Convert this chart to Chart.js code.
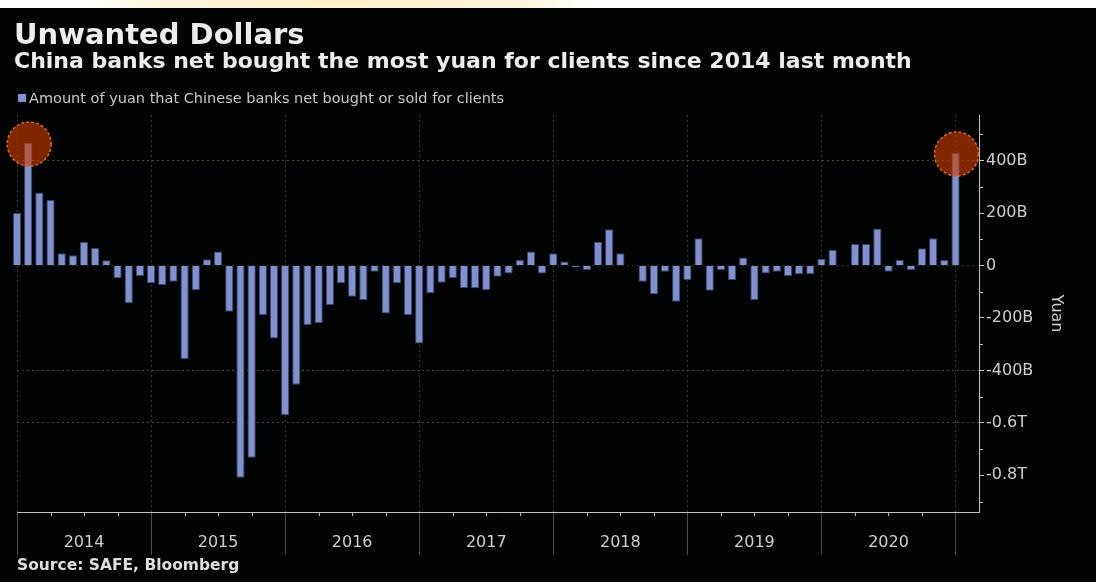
<!DOCTYPE html>
<html>
<head>
<meta charset="utf-8">
<script src="https://cdn.jsdelivr.net/npm/chart.js@4.4.1/dist/chart.umd.min.js"></script>
<style>
  html, body { margin: 0; padding: 0; background: #fff; }
  #page { position: relative; width: 1096px; height: 582px; overflow: hidden; font-family: "DejaVu Sans", sans-serif; }
  #band { position: absolute; left: 0; top: 0; width: 1096px; height: 8px;
          background: radial-gradient(ellipse 260px 40px at 340px 0px, #fbf0c6 0%, #fdf6dc 70%, #ffffff 100%); }
  #panel { position: absolute; left: 0; top: 8px; width: 1096px; height: 574px; background: #020303; }
  #chart { position: absolute; left: 0; top: 0; }
  .txt { position: absolute; white-space: nowrap; }
  #title { left: 14px; top: 17px; font-size: 29px; line-height: 34px; font-weight: bold; color: #ededed; }
  #subtitle { left: 14px; top: 48px; font-size: 22px; line-height: 26px; font-weight: bold; color: #ededed; }
  #legend { left: 18px; top: 89px; font-size: 14.5px; line-height: 18px; color: #c9c9c9; }
  #legend span { display: inline-block; width: 8px; height: 8px; background: #7f91cf; margin-right: 3px; vertical-align: 1px; }
  #source { left: 17px; top: 556px; font-size: 15.5px; line-height: 18px; font-weight: bold; color: #dedede; }
</style>
</head>
<body>
<div id="page">
  <div id="band"></div>
  <div id="panel"></div>
  <canvas id="chart" width="1096" height="582"></canvas>
  <div class="txt" id="title">Unwanted Dollars</div>
  <div class="txt" id="subtitle">China banks net bought the most yuan for clients since 2014 last month</div>
  <div class="txt" id="legend"><span></span>Amount of yuan that Chinese banks net bought or sold for clients</div>
  <div class="txt" id="source">Source: SAFE, Bloomberg</div>
</div>
<script>
// monthly net yuan bought (+) / sold (-) for clients, billions, Dec 2013 .. Dec 2020
const values = [
  200, 467, 278, 250, 47, 39, 90, 67, 20, -49, -144, -40,
  -68, -74, -62, -357, -94, 24, 53, -176, -809, -733, -190, -278,
  -570, -455, -227, -220, -151, -68, -119, -132, -24, -183, -68, -189,
  -297, -106, -66, -49, -87, -87, -94, -43, -30, 21, 53, -30,
  47, 15, -8, -17, 91, 138, 47, -3, -62, -110, -24, -138,
  -55, 104, -96, -17, -55, 31, -132, -30, -24, -40, -33, -33,
  26, 59, 2, 82, 82, 141, -24, 21, -17, 66, 104, 21,
  429
];
const years = ['2014', '2015', '2016', '2017', '2018', '2019', '2020'];
const xTicks = [0, 6, 12, 18, 24, 30, 36, 42, 48, 54, 60, 66, 72, 78, 84];
const yTicks = [-800, -600, -400, -200, 0, 200, 400];
const highlighted = [1, 84]; // Jan 2014 and latest month

const barColor = '#7f91cf';

function yLabel(v) {
  if (v === 0) return '0';
  if (Math.abs(v) < 500) return v + 'B';
  return (v / 1000).toFixed(1) + 'T';
}

// red circles around the two peaks
const circles = {
  id: 'circles',
  afterDatasetsDraw(chart) {
    const ctx = chart.ctx;
    const meta = chart.getDatasetMeta(0);
    highlighted.forEach(i => {
      const el = meta.data[i];
      ctx.save();
      ctx.beginPath();
      ctx.arc(el.x + 1, el.y + 1, 22, 0, Math.PI * 2);
      ctx.fillStyle = 'rgba(205, 62, 0, 0.62)';
      ctx.fill();
      ctx.setLineDash([3, 2]);
      ctx.lineWidth = 1.5;
      ctx.strokeStyle = '#e8631a';
      ctx.stroke();
      ctx.restore();
    });
  }
};

// small minor ticks (quarters and 100B)
const minorTicks = {
  id: 'minorTicks',
  afterDraw(chart) {
    const ctx = chart.ctx;
    const xs = chart.scales.x, ys = chart.scales.y;
    ctx.save();
    ctx.strokeStyle = '#bdbdbd';
    ctx.lineWidth = 1;
    ctx.beginPath();
    for (let m = 3; m < 84; m += 3) {
      if (m % 12 === 0) continue;
      const x = Math.round(xs.getPixelForValue(m)) + 0.5;
      ctx.moveTo(x, ys.bottom);
      ctx.lineTo(x, ys.bottom + 4);
    }
    for (let v = -900; v <= 500; v += 200) {
      const y = Math.round(ys.getPixelForValue(v)) + 0.5;
      ctx.moveTo(ys.left, y);
      ctx.lineTo(ys.left + 4, y);
    }
    ctx.stroke();
    ctx.restore();
  }
};

const ctx = document.getElementById('chart').getContext('2d');

new Chart(ctx, {
  type: 'bar',
  data: {
    datasets: [{
      label: 'Amount of yuan that Chinese banks net bought or sold for clients',
      data: values.map((v, i) => ({ x: i, y: v })),
      backgroundColor: barColor,
      borderColor: '#3c4270',
      borderWidth: 1,
      categoryPercentage: 1,
      barPercentage: 0.74,
      clip: false
    }]
  },
  options: {
    responsive: false,
    animation: false,
    layout: { padding: { left: 17, top: 115, right: 0, bottom: 0 } },
    plugins: {
      legend: { display: false },
      tooltip: { enabled: false }
    },
    scales: {
      x: {
        type: 'linear',
        offset: false,
        min: 0,
        max: 86.1,
        afterFit: (s) => { s.height = 70; },
        afterBuildTicks: (s) => { s.ticks = xTicks.map(v => ({ value: v })); },
        border: { display: true, color: '#c4c4c4', width: 1, dash: [2, 3] },
        grid: {
          offset: false,
          color: (c) => (c.tick && c.tick.value % 12 === 0) ? '#3a3a22' : 'rgba(0,0,0,0)',
          tickColor: (c) => (c.tick && c.tick.value % 12 === 0) ? '#4c4c4c' : 'rgba(0,0,0,0)',
          tickLength: 43,
          tickBorderDash: []
        },
        ticks: {
          autoSkip: false,
          maxRotation: 0,
          padding: -22,
          color: '#cfcfcf',
          font: { family: 'DejaVu Sans', size: 16 },
          callback: (v) => (v % 12 === 6) ? years[(v - 6) / 12] : ''
        }
      },
      y: {
        position: 'right',
        min: -940,
        max: 574,
        afterFit: (s) => { s.width = 117; },
        afterBuildTicks: (s) => { s.ticks = yTicks.map(v => ({ value: v })); },
        border: { display: true, color: '#c4c4c4', width: 1, dash: [2, 3] },
        grid: {
          color: (c) => {
            const v = c.tick ? c.tick.value : null;
            if (v === 400 || v === -400 || v === -600) return '#4a4a2a';
            if (v === 0) return '#2a2a1c';
            return 'rgba(0,0,0,0)';
          },
          tickColor: '#c4c4c4',
          tickLength: 5,
          tickBorderDash: []
        },
        ticks: {
          padding: 2,
          color: '#cfcfcf',
          font: { family: 'DejaVu Sans', size: 16 },
          callback: (v) => yLabel(v)
        },
        title: {
          display: true,
          text: 'Yuan',
          color: '#cfcfcf',
          font: { family: 'DejaVu Sans', size: 16 },
          padding: { top: 30, bottom: 0 }
        }
      }
    }
  },
  plugins: [circles, minorTicks]
});
</script>
</body>
</html>
